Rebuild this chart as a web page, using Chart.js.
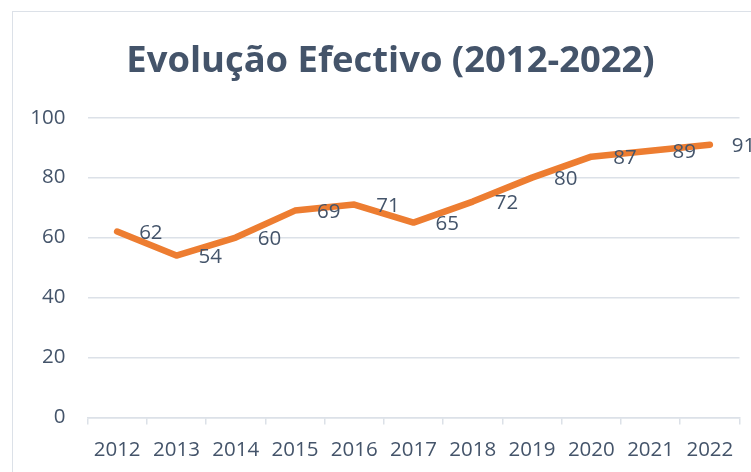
<!DOCTYPE html>
<html>
<head>
<meta charset="utf-8">
<script src="https://cdn.jsdelivr.net/npm/chart.js@4/dist/chart.umd.min.js"></script>
<style>
  html, body { margin: 0; padding: 0; background: #fff; overflow: hidden; }
  #wrap {
    position: absolute; left: 12px; top: 11px;
    width: 755px; height: 480px;
    border: 1.5px solid #DCE1E8;
  }
</style>
</head>
<body>
<div id="wrap"><canvas id="canvas"></canvas></div>
<script>
const years = ['2012', '2013', '2014', '2015', '2016', '2017', '2018', '2019', '2020', '2021', '2022'];
const efectivo = [62, 54, 60, 69, 71, 65, 72, 80, 87, 89, 91];
const yTicks = [0, 20, 40, 60, 80, 100];

const textColor = '#44546A';
const gridColor = '#DCE1E8';
const fontFamily = '"Open Sans", sans-serif';

// draws the value labels to the right of each point
const valueLabels = {
    id: 'valueLabels',
    afterDatasetsDraw(chart) {
        const c = chart.ctx;
        const meta = chart.getDatasetMeta(0);
        c.save();
        c.font = '20.5px ' + fontFamily;
        c.fillStyle = textColor;
        c.textAlign = 'left';
        c.textBaseline = 'middle';
        meta.data.forEach((pt, i) => {
            c.fillText(String(chart.data.datasets[0].data[i]), pt.x + 22, pt.y + 2);
        });
        c.restore();
    }
};

new Chart(document.getElementById('canvas'), {
    type: 'line',
    data: {
        labels: years,
        datasets: [{
            label: 'Efectivo',
            data: efectivo,
            borderColor: '#ED7D31',
            backgroundColor: '#ED7D31',
            borderWidth: 6.5,
            borderJoinStyle: 'round',
            borderCapStyle: 'round',
            pointRadius: 0,
            tension: 0
        }]
    },
    options: {
        responsive: true,
        maintainAspectRatio: false,
        animation: false,
        layout: {
            padding: { left: 0, right: 0, top: 0, bottom: 17 }
        },
        plugins: {
            legend: { display: false },
            tooltip: { enabled: false },
            title: {
                display: true,
                text: 'Evolução Efectivo (2012-2022)',
                color: textColor,
                font: { family: fontFamily, size: 36.4, weight: 'bold' },
                padding: { top: 28, bottom: 34 }
            }
        },
        scales: {
            x: {
                offset: true,
                grid: {
                    offset: true,
                    drawOnChartArea: false,
                    drawTicks: true,
                    tickLength: 7,
                    color: gridColor,
                    lineWidth: 1.5
                },
                border: { display: true, color: gridColor, width: 1.5 },
                ticks: {
                    color: textColor,
                    font: { family: fontFamily, size: 20.5 },
                    padding: 13,
                    maxRotation: 0,
                    autoSkip: false
                }
            },
            y: {
                min: 0,
                max: 100,
                afterBuildTicks(axis) {
                    axis.ticks = yTicks.map(v => ({ value: v }));
                },
                afterFit(axis) {
                    axis.width = 74.5;
                },
                grid: {
                    drawTicks: false,
                    color: gridColor,
                    lineWidth: 1.5
                },
                border: { display: false },
                ticks: {
                    color: textColor,
                    font: { family: fontFamily, size: 20.5 },
                    padding: 22
                }
            },
            // empty right axis, only keeps the space right of the plot
            yRight: {
                position: 'right',
                min: 0,
                max: 100,
                afterFit(axis) {
                    axis.width = 28.5;
                },
                grid: { drawOnChartArea: false, drawTicks: false },
                border: { display: false },
                ticks: { display: false }
            }
        }
    },
    plugins: [valueLabels]
});
</script>
</body>
</html>
